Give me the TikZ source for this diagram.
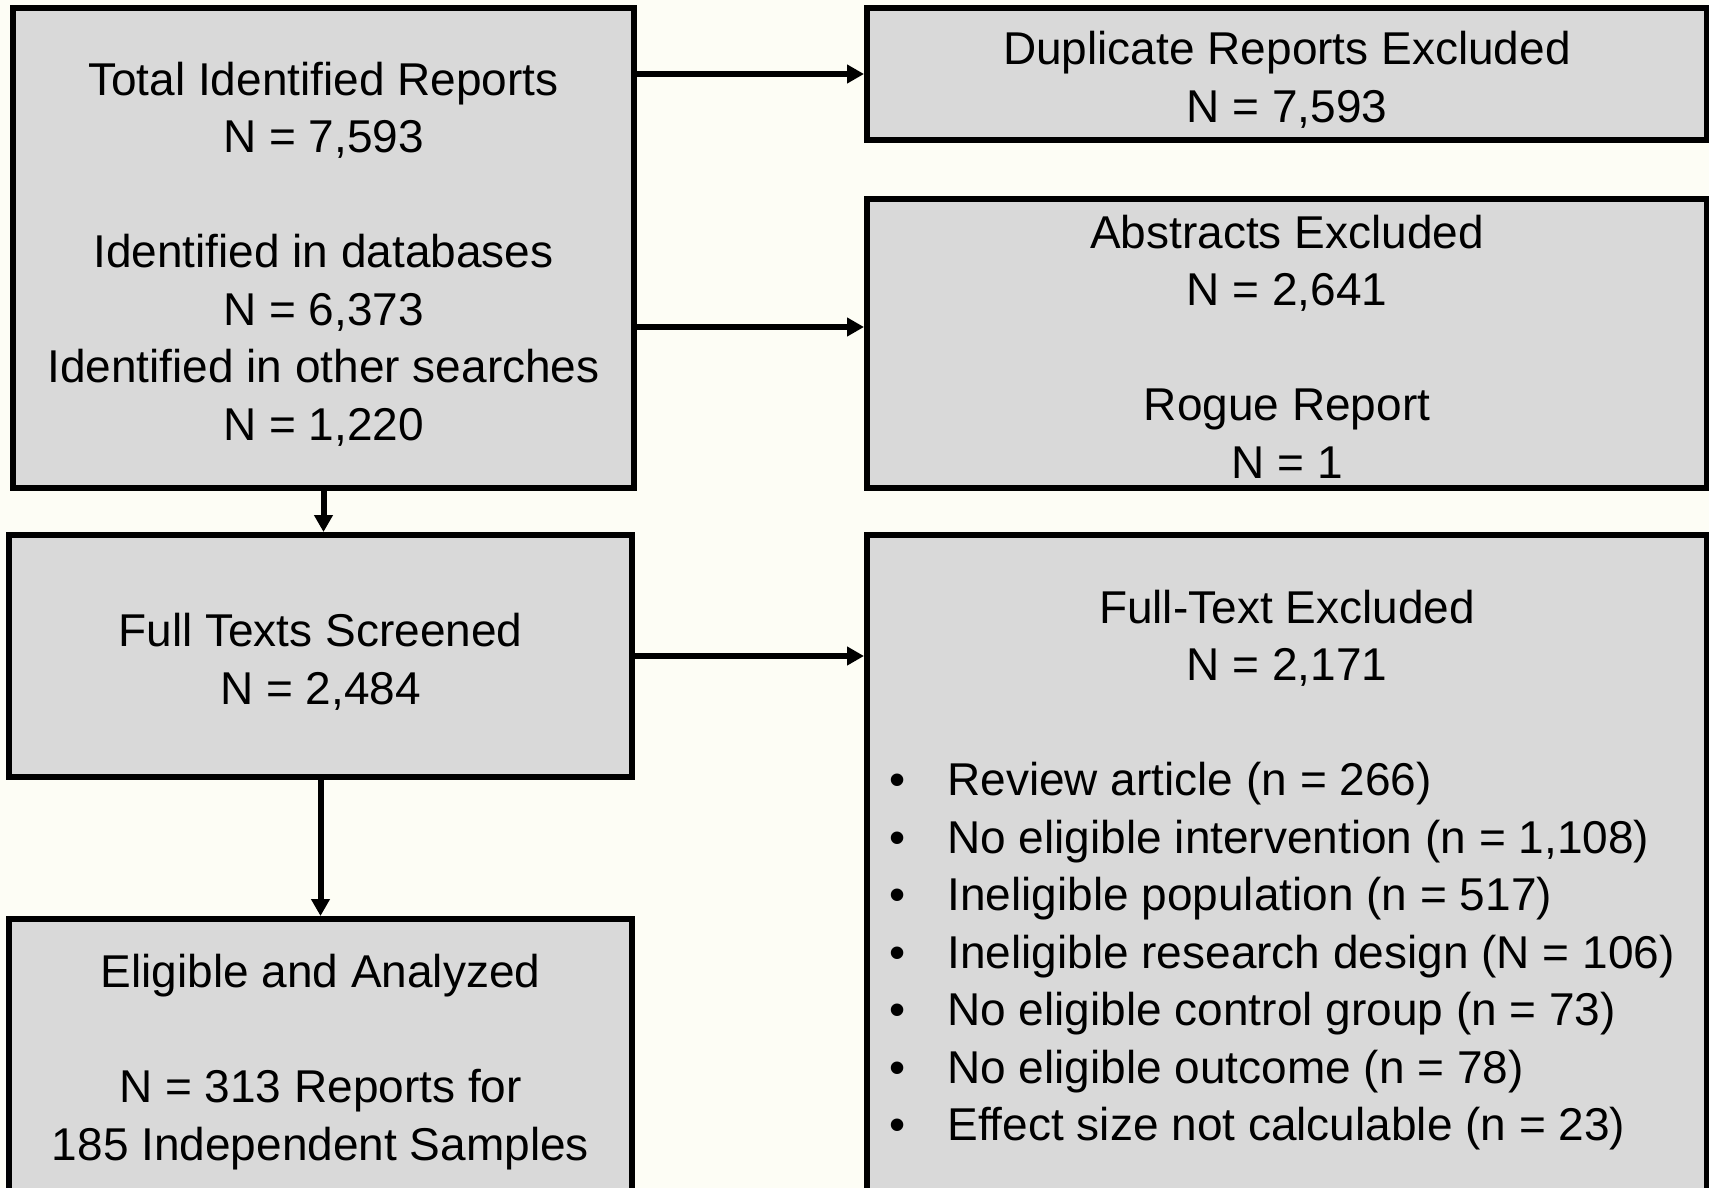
\documentclass[tikz,border=0pt]{standalone}
\usepackage{fontspec}
\setmainfont{Liberation Sans}
\usetikzlibrary{arrows.meta, positioning, calc}
\definecolor{bgcream}{RGB}{253,253,245}
\definecolor{boxgray}{RGB}{217,217,217}
% struts so that every text block sits like the original slide text
\newcommand{\tstrut}{\rule{0pt}{23pt}}
\newcommand{\bstrut}{\rule[-3.5pt]{0pt}{3.5pt}}
\begin{document}
\begin{tikzpicture}[
    x=0.5pt, y=-0.5pt,
    box/.style={draw, line width=3pt, fill=boxgray, inner sep=0pt, align=center,
        font=\fontsize{23pt}{28.75pt}\selectfont},
    arrow/.style={-{Triangle[length=8.5pt,width=9pt]}, line width=3pt}
]
    % Canvas
    \clip (0,0) rectangle (1709,1188);
    \fill[bgcream] (0,0) rectangle (1709,1188);

    % Left column
    \node[box, minimum width=310.5pt, minimum height=240pt] (total) at (323.5,248)
        {\tstrut Total Identified Reports\\N = 7,593\\[28.75pt]Identified in databases\\N = 6,373\\Identified in other searches\\N = 1,220\bstrut};
    \node[box, minimum width=311.5pt, minimum height=121pt] (full) at (320.5,656)
        {\tstrut Full Texts Screened\\N = 2,484\bstrut};
    \node[box, minimum width=311.5pt, minimum height=137pt] (elig) at (320.5,1056)
        {\tstrut Eligible and Analyzed\\[28.75pt]N = 313 Reports for\\185 Independent Samples\bstrut};

    % Right column
    \node[box, minimum width=420pt, minimum height=66pt] (dup) at (1287,74)
        {\tstrut Duplicate Reports Excluded\\N = 7,593\bstrut};
    \node[box, minimum width=420pt, minimum height=144.5pt] (abs) at (1287,343.5)
        {\tstrut Abstracts Excluded\\N = 2,641\\[28.75pt]Rogue Report\\N = 1\bstrut};
    \node[box, minimum width=420pt, minimum height=332.5pt] (ftex) at (1287,867.5)
        {\tstrut\begin{tabular}[t]{@{}l@{\hspace{21pt}}l@{\hspace{5pt}}}
            \multicolumn{2}{@{\hspace{2.5pt}}c@{\hspace{2.5pt}}}{Full-Text Excluded}\\
            \multicolumn{2}{@{\hspace{2.5pt}}c@{\hspace{2.5pt}}}{N = 2,171}\\
            \\
            \textbullet & Review article (n = 266)\\
            \textbullet & No eligible intervention (n = 1,108)\\
            \textbullet & Ineligible population (n = 517)\\
            \textbullet & Ineligible research design (N = 106)\\
            \textbullet & No eligible control group (n = 73)\\
            \textbullet & No eligible outcome (n = 78)\\
            \textbullet & Effect size not calculable (n = 23)
        \end{tabular}};

    % Arrows
    \draw[arrow] (total.east |- dup.west) -- (dup.west);
    \draw[arrow] (total.east |- {(0,327)}) -- (abs.west |- {(0,327)});
    \draw[arrow] (full.east) -- (ftex.west |- full.east);
    \draw[arrow] (total.south) -- (total.south |- full.north);
    \draw[arrow] (full.south) -- (elig.north);
\end{tikzpicture}
\end{document}
